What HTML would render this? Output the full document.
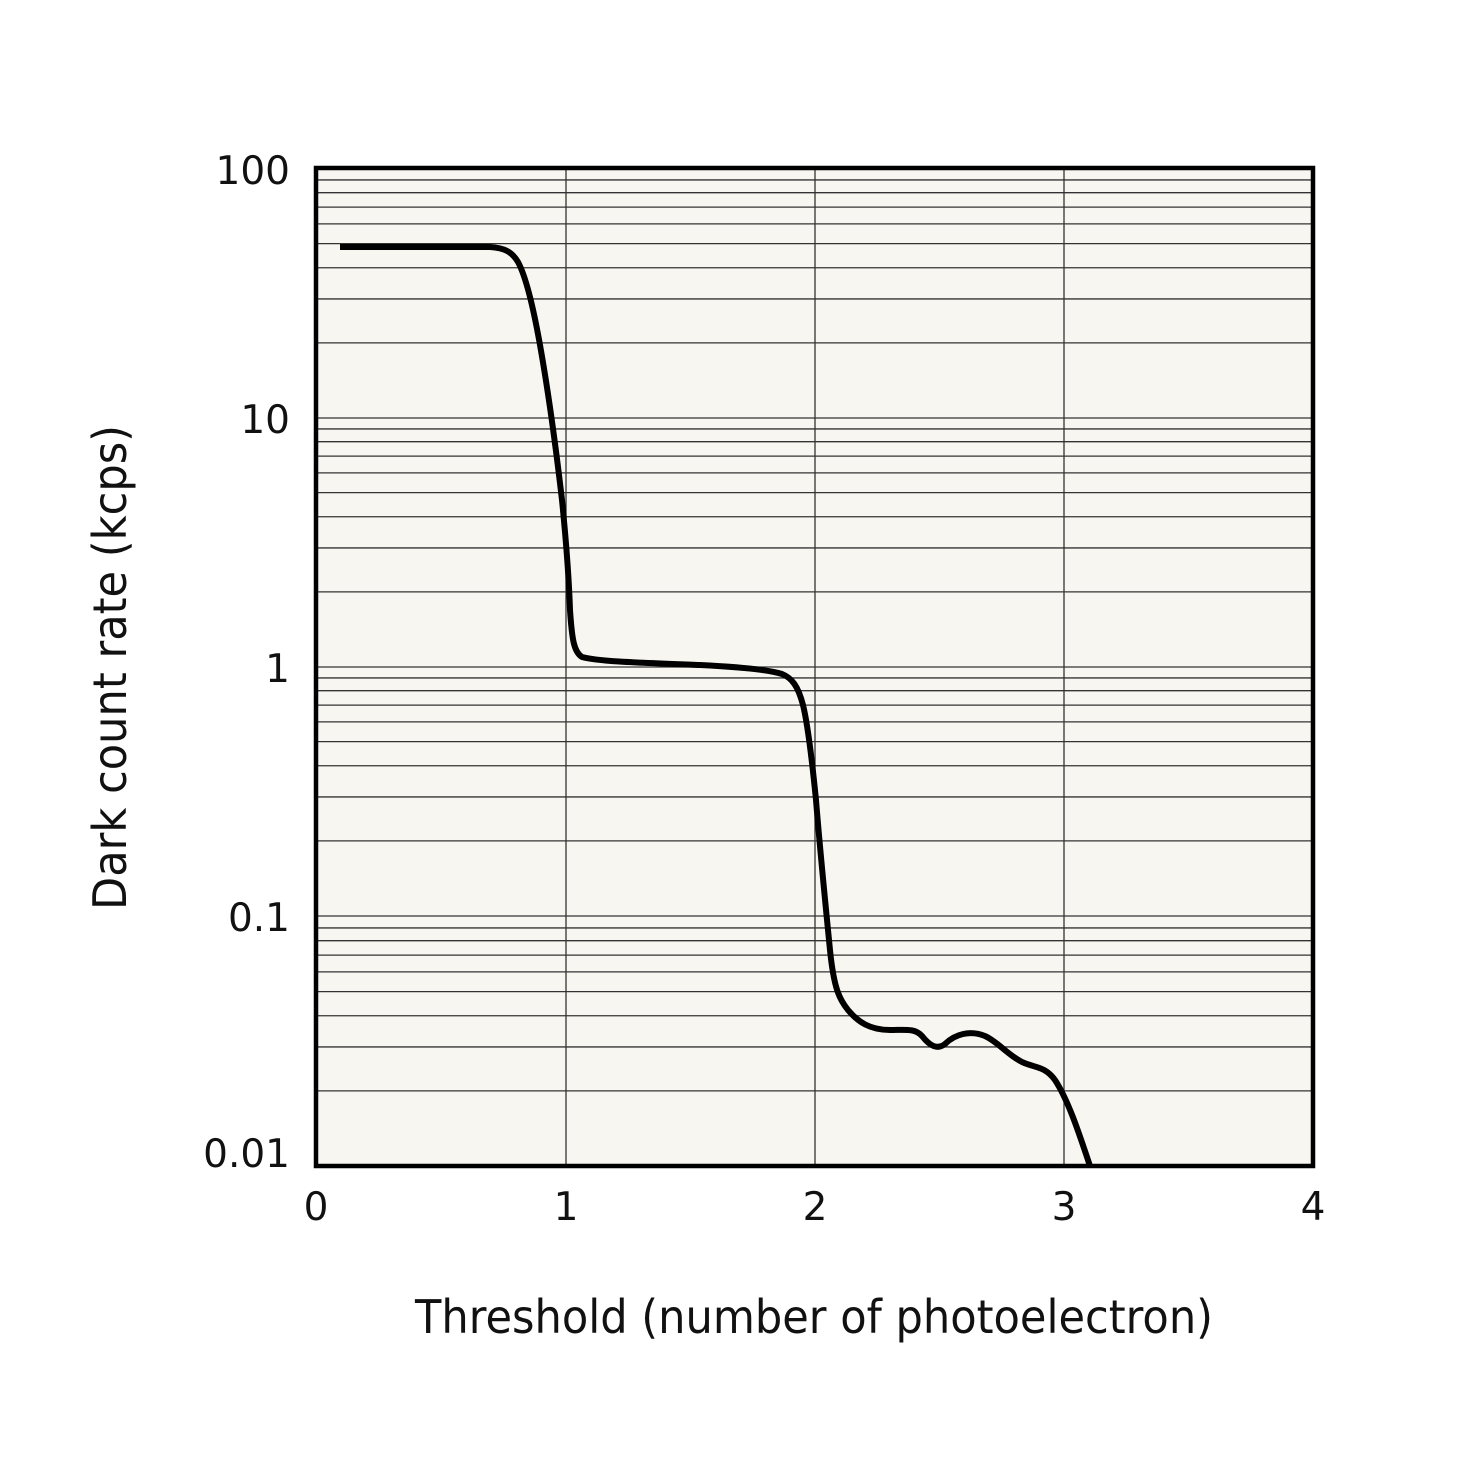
<!DOCTYPE html>
<html><head><meta charset="utf-8"><style>
html,body{margin:0;padding:0;background:#fff;width:1475px;height:1475px;overflow:hidden}
text{font-family:"DejaVu Sans","Liberation Sans",sans-serif;fill:#111}
</style></head><body>
<svg id="s" width="1475" height="1475" viewBox="0 0 1475 1475" xmlns="http://www.w3.org/2000/svg">
<rect x="316" y="168" width="997" height="998" fill="#f7f6f0"/>
<g id="grid" stroke="#333" stroke-width="1.3"></g>
<path d="M340,247 L490,247 C505,248 512,252 518,262 C525,275 532,300 540,345 C548,390 555,440 562,500 C566,540 569,580 570,610 C572,640 574,652 582,657 C600,662 650,663 700,665 C740,667 770,670 782,674 C792,678 798,686 803,705 C808,725 812,760 816,800 C820,850 825,900 830,950 C834,990 840,1000 848,1010 C858,1022 870,1030 890,1030 C905,1030 915,1028 922,1036 C930,1046 937,1050 945,1044 C955,1034 970,1030 985,1036 C998,1042 1008,1055 1022,1062 C1035,1068 1045,1066 1055,1080 C1068,1100 1078,1130 1090,1166" fill="none" stroke="#000" stroke-width="6" stroke-linejoin="round"/>
<rect x="316" y="168" width="997" height="998" fill="none" stroke="#000" stroke-width="4.5"/>
<g font-size="39" text-anchor="end">
<text x="290" y="184">100</text>
<text x="290" y="433">10</text>
<text x="290" y="682">1</text>
<text x="290" y="931">0.1</text>
<text x="290" y="1167">0.01</text>
</g>
<g font-size="39" text-anchor="middle">
<text x="316" y="1220">0</text>
<text x="566" y="1220">1</text>
<text x="815" y="1220">2</text>
<text x="1064" y="1220">3</text>
<text x="1313" y="1220">4</text>
</g>
<text x="415" y="1333" font-size="46" textLength="798" lengthAdjust="spacingAndGlyphs">Threshold (number of photoelectron)</text>
<text transform="translate(126,910) rotate(-90)" font-size="46" textLength="485" lengthAdjust="spacingAndGlyphs">Dark count rate (kcps)</text>
</svg>
<script>
var g=document.getElementById('grid'),ns='http://www.w3.org/2000/svg';
function L(x1,y1,x2,y2){var l=document.createElementNS(ns,'line');l.setAttribute('x1',x1);l.setAttribute('y1',y1);l.setAttribute('x2',x2);l.setAttribute('y2',y2);g.appendChild(l);}
var bottoms=[418,667,916,1166];
for(var d=0;d<4;d++){for(var m=1;m<=9;m++){var y=bottoms[d]-249.5*Math.log10(m);if(m==1&&d==3)continue;L(318,y,1311,y);}}
[566,815,1064].forEach(function(x){L(x,170,x,1164);});
</script>
</body></html>
